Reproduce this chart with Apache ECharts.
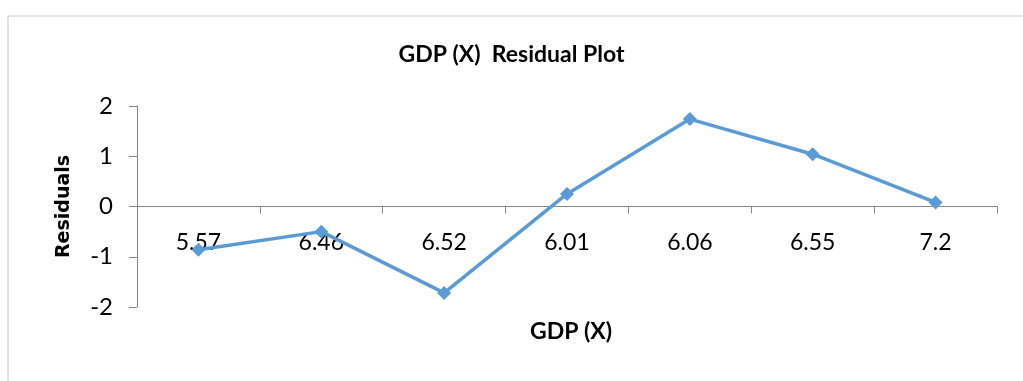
<!DOCTYPE html>
<html>
<head>
<meta charset="utf-8">
<script src="https://cdn.jsdelivr.net/npm/echarts@6/dist/echarts.min.js"></script>
<style>
  html, body { margin: 0; padding: 0; background: #fff; }
  #chartContainer { width: 1023px; height: 381px; }
</style>
</head>
<body>
<div id="chartContainer"></div>
<script>
// GDP values (category labels) and residuals
const gdpLabels = ['5.57', '6.46', '6.52', '6.01', '6.06', '6.55', '7.2'];
const residuals = [-0.86, -0.50, -1.72, 0.25, 1.74, 1.04, 0.08];
const yTicks = [-2, -1, 0, 1, 2];

const myChart = echarts.init(document.getElementById('chartContainer'));

const option = {
    backgroundColor: '#ffffff',
    animation: false,
    title: [
        {
            text: 'GDP (X)  Residual Plot',
            left: 'center',
            top: 38,
            textStyle: { fontFamily: 'Lato', fontWeight: 'bold', fontSize: 23, color: '#000' }
        },
        {
            text: 'GDP (X)',
            left: 566,
            top: 315,
            textAlign: 'center',
            textStyle: { fontFamily: 'Lato', fontWeight: 'bold', fontSize: 23, color: '#000' }
        }
    ],
    graphic: [{
        type: 'rect',
        shape: { x: 8, y: 16, width: 1030, height: 380 },
        style: { fill: 'none', stroke: '#c8c8c8', lineWidth: 1 },
        silent: true
    }],
    grid: { left: 137, right: 26, top: 106, bottom: 74 },
    xAxis: {
        type: 'category',
        data: gdpLabels,
        boundaryGap: true,
        axisLine: { onZero: true, lineStyle: { color: '#868686', width: 1 } },
        axisTick: { show: true, length: 7, lineStyle: { color: '#868686' } },
        // labels sit just under the zero line, as in the reference
        axisLabel: { margin: -76, fontFamily: 'Lato', fontSize: 23, color: '#000' },
        splitLine: { show: false }
    },
    yAxis: {
        type: 'value',
        min: yTicks[0],
        max: yTicks[yTicks.length - 1],
        interval: 1,
        name: 'Residuals',
        nameLocation: 'middle',
        nameRotate: 90,
        nameGap: 63,
        nameTextStyle: { fontFamily: 'DejaVu Sans', fontWeight: 'bold', fontSize: 19, color: '#000' },
        axisLine: { show: true, lineStyle: { color: '#868686', width: 1 } },
        axisTick: { show: true, length: 8, lineStyle: { color: '#868686' } },
        axisLabel: { margin: 24, fontFamily: 'Lato', fontSize: 24, color: '#000' },
        splitLine: { show: false }
    },
    series: [{
        type: 'line',
        data: residuals,
        symbol: 'diamond',
        symbolSize: 14,
        lineStyle: { color: '#5b9bd5', width: 3.5 },
        itemStyle: { color: '#5b9bd5' }
    }]
};

myChart.setOption(option);
</script>
</body>
</html>
